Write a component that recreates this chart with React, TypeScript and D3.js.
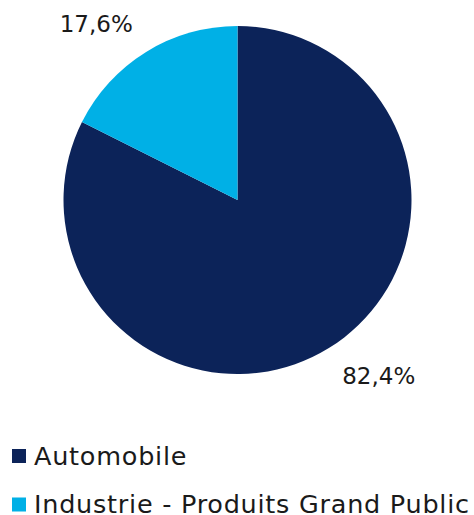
import * as d3 from "d3";
import React from "react";

const categories = ["Automobile", "Industrie - Produits Grand Public"];
const values = [82.4, 17.6];
const valueLabels = ["82,4%", "17,6%"];
const colors = ["#0c2359", "#00b0e6"];

export default function App() {
	const width = 474;
	const height = 515;
	const cx = 237.5;
	const cy = 200;
	const radius = 174;
	const labelRadius = 226;
	const labelShift = (-7 * Math.PI) / 180;
	const font = "'DejaVu Sans', sans-serif";

	const pie = d3.pie<number>().sort(null)(values);
	const arc = d3
		.arc<d3.PieArcDatum<number>>()
		.innerRadius(0)
		.outerRadius(radius);

	return (
		<svg
			width={width}
			height={height}
			style={{ position: "absolute", left: 0, top: 0 }}
		>
			<g transform={`translate(${cx},${cy})`}>
				{pie.map((p, i) => (
					<path key={categories[i]} d={arc(p) ?? ""} fill={colors[i]} />
				))}
				{pie.map((p, i) => {
					const a = (p.startAngle + p.endAngle) / 2 + labelShift;
					const x = labelRadius * Math.sin(a);
					const y = -labelRadius * Math.cos(a);
					return (
						<text
							key={valueLabels[i]}
							x={x}
							y={y}
							textAnchor="middle"
							dominantBaseline="central"
							fontFamily={font}
							fontSize={23}
							fill="#1a1a1a"
						>
							{valueLabels[i]}
						</text>
					);
				})}
			</g>
			{categories.map((c, i) => (
				<g key={c} transform={`translate(12,${449 + i * 48.5})`}>
					<rect width={14} height={14} fill={colors[i]} />
					<text
						x={22}
						y={15.5}
						fontFamily={font}
						fontSize={25.5}
						letterSpacing={0.75}
						fill="#1a1a1a"
					>
						{c}
					</text>
				</g>
			))}
		</svg>
	);
}
